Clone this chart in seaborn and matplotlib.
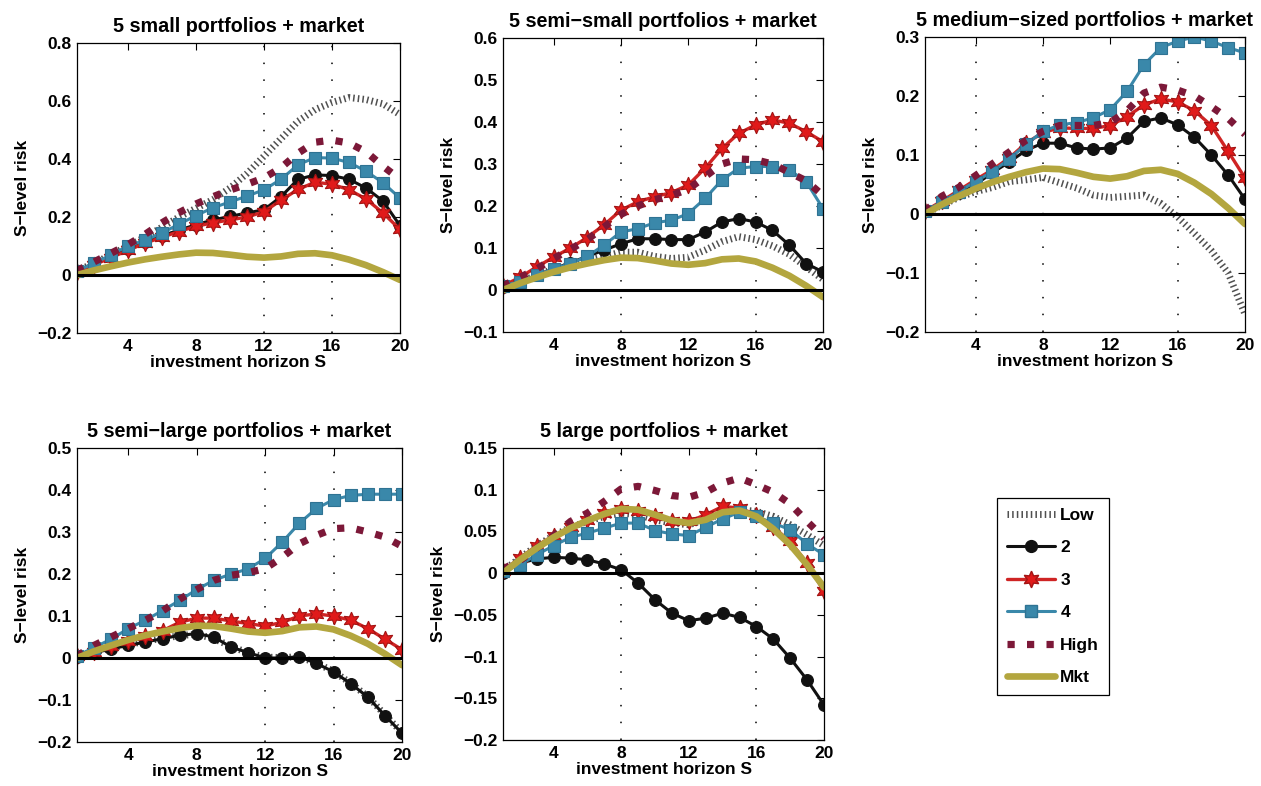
import numpy as np
import pandas as pd
import matplotlib
matplotlib.use("Agg")
import matplotlib.pyplot as plt
from matplotlib.ticker import FixedLocator, FuncFormatter
from matplotlib.lines import Line2D
import seaborn as sns

# ---------------------------------------------------------------- data
S = list(range(1, 21))
X_TICKS = [4, 8, 12, 16, 20]
SERIES = ["Low", "2", "3", "4", "High", "Mkt"]

MKT = [0.0, 0.016, 0.03, 0.043, 0.054, 0.063, 0.071, 0.077, 0.076, 0.07,
       0.063, 0.06, 0.064, 0.073, 0.075, 0.068, 0.053, 0.034, 0.01, -0.017]

# 5 small portfolios
SMALL_LOW = [0.015, 0.04, 0.07, 0.10, 0.13, 0.165, 0.20, 0.23, 0.26, 0.30,
             0.35, 0.41, 0.47, 0.53, 0.57, 0.595, 0.612, 0.605, 0.59, 0.553]
SMALL_2 = [0.015, 0.04, 0.065, 0.09, 0.115, 0.135, 0.155, 0.173, 0.19, 0.202,
           0.214, 0.225, 0.27, 0.33, 0.345, 0.343, 0.33, 0.30, 0.255, 0.17]
SMALL_3 = [0.012, 0.035, 0.06, 0.085, 0.11, 0.13, 0.15, 0.168, 0.18, 0.19,
           0.20, 0.218, 0.258, 0.295, 0.32, 0.313, 0.294, 0.262, 0.214, 0.157]
SMALL_4 = [0.015, 0.04, 0.07, 0.10, 0.12, 0.145, 0.175, 0.205, 0.232, 0.252,
           0.272, 0.294, 0.33, 0.38, 0.405, 0.403, 0.388, 0.358, 0.318, 0.265]
SMALL_HIGH = [0.015, 0.045, 0.075, 0.105, 0.14, 0.18, 0.215, 0.245, 0.27, 0.293,
              0.313, 0.335, 0.37, 0.42, 0.458, 0.465, 0.455, 0.425, 0.375, 0.33]

# 5 semi-small portfolios
SEMISMALL_LOW = [0.005, 0.02, 0.035, 0.05, 0.06, 0.07, 0.08, 0.09, 0.09, 0.08,
                 0.075, 0.078, 0.095, 0.115, 0.127, 0.12, 0.105, 0.085, 0.055, 0.025]
SEMISMALL_2 = [0.008, 0.02, 0.035, 0.05, 0.065, 0.08, 0.095, 0.11, 0.122, 0.122,
               0.12, 0.12, 0.138, 0.162, 0.17, 0.162, 0.142, 0.107, 0.063, 0.043]
SEMISMALL_3 = [0.01, 0.03, 0.055, 0.078, 0.10, 0.125, 0.155, 0.19, 0.21, 0.222,
               0.232, 0.25, 0.29, 0.337, 0.373, 0.393, 0.405, 0.397, 0.377, 0.353]
SEMISMALL_4 = [0.01, 0.02, 0.035, 0.05, 0.063, 0.08, 0.107, 0.138, 0.146, 0.16,
               0.166, 0.182, 0.218, 0.262, 0.29, 0.294, 0.294, 0.286, 0.258, 0.194]
SEMISMALL_HIGH = [0.01, 0.03, 0.05, 0.075, 0.097, 0.12, 0.15, 0.18, 0.20, 0.215,
                  0.225, 0.24, 0.27, 0.30, 0.312, 0.31, 0.30, 0.28, 0.26, 0.225]

# 5 medium-sized portfolios
MEDIUM_LOW = [0.0, 0.015, 0.028, 0.038, 0.045, 0.055, 0.058, 0.062, 0.053, 0.044,
              0.032, 0.028, 0.03, 0.032, 0.018, -0.005, -0.033, -0.062, -0.10, -0.17]
MEDIUM_2 = [0.005, 0.02, 0.035, 0.05, 0.07, 0.088, 0.108, 0.12, 0.12, 0.112,
            0.11, 0.112, 0.129, 0.157, 0.163, 0.151, 0.13, 0.10, 0.066, 0.025]
MEDIUM_3 = [0.005, 0.022, 0.04, 0.058, 0.075, 0.095, 0.12, 0.138, 0.146, 0.145,
            0.145, 0.15, 0.165, 0.185, 0.195, 0.19, 0.175, 0.15, 0.106, 0.061]
MEDIUM_4 = [0.005, 0.02, 0.038, 0.055, 0.072, 0.093, 0.118, 0.14, 0.151, 0.155,
            0.163, 0.177, 0.208, 0.253, 0.282, 0.293, 0.30, 0.293, 0.282, 0.273]
MEDIUM_HIGH = [0.005, 0.03, 0.045, 0.065, 0.085, 0.105, 0.125, 0.14, 0.15, 0.15,
               0.15, 0.155, 0.175, 0.205, 0.215, 0.21, 0.20, 0.182, 0.162, 0.135]

# 5 semi-large portfolios
SEMILARGE_LOW = [0.004, 0.013, 0.024, 0.032, 0.04, 0.047, 0.053, 0.057, 0.046, 0.028,
                 0.012, 0.002, 0.001, 0.003, -0.012, -0.032, -0.06, -0.092, -0.135, -0.178]
SEMILARGE_2 = [0.003, 0.012, 0.022, 0.03, 0.038, 0.046, 0.054, 0.058, 0.05, 0.026,
               0.013, 0.0, 0.0, 0.003, -0.013, -0.033, -0.061, -0.093, -0.137, -0.179]
SEMILARGE_3 = [0.005, 0.015, 0.028, 0.04, 0.052, 0.065, 0.085, 0.095, 0.095, 0.088,
               0.082, 0.076, 0.085, 0.10, 0.105, 0.10, 0.09, 0.07, 0.045, 0.02]
SEMILARGE_4 = [0.005, 0.025, 0.045, 0.07, 0.09, 0.113, 0.137, 0.163, 0.185, 0.20,
               0.212, 0.237, 0.276, 0.321, 0.356, 0.377, 0.387, 0.39, 0.39, 0.39]
SEMILARGE_HIGH = [0.005, 0.03, 0.05, 0.07, 0.09, 0.112, 0.14, 0.163, 0.185, 0.197,
                  0.203, 0.213, 0.24, 0.272, 0.292, 0.308, 0.31, 0.30, 0.288, 0.266]

# 5 large portfolios
LARGE_LOW = [0.003, 0.018, 0.033, 0.045, 0.055, 0.062, 0.068, 0.072, 0.07, 0.064,
             0.06, 0.058, 0.064, 0.072, 0.076, 0.074, 0.068, 0.058, 0.046, 0.033]
LARGE_2 = [0.0, 0.012, 0.017, 0.019, 0.018, 0.016, 0.011, 0.004, -0.012, -0.032,
           -0.048, -0.057, -0.054, -0.048, -0.053, -0.064, -0.079, -0.102, -0.128, -0.158]
LARGE_3 = [0.003, 0.018, 0.033, 0.045, 0.055, 0.064, 0.072, 0.077, 0.075, 0.069,
           0.063, 0.062, 0.07, 0.08, 0.078, 0.07, 0.055, 0.038, 0.012, -0.022]
LARGE_4 = [0.003, 0.01, 0.022, 0.033, 0.043, 0.048, 0.054, 0.06, 0.06, 0.051,
           0.047, 0.045, 0.055, 0.065, 0.073, 0.068, 0.06, 0.052, 0.035, 0.022]
LARGE_HIGH = [0.005, 0.015, 0.03, 0.045, 0.062, 0.072, 0.086, 0.101, 0.104, 0.099,
              0.093, 0.091, 0.097, 0.108, 0.114, 0.106, 0.097, 0.083, 0.062, 0.042]

TITLES = ["5 small portfolios + market",
          "5 semi\u2212small portfolios + market",
          "5 medium\u2212sized portfolios + market",
          "5 semi\u2212large portfolios + market",
          "5 large portfolios + market"]

Y_TICKS = [[-0.2, 0.0, 0.2, 0.4, 0.6, 0.8],
           [-0.1, 0.0, 0.1, 0.2, 0.3, 0.4, 0.5, 0.6],
           [-0.2, -0.1, 0.0, 0.1, 0.2, 0.3],
           [-0.2, -0.1, 0.0, 0.1, 0.2, 0.3, 0.4, 0.5],
           [-0.2, -0.15, -0.1, -0.05, 0.0, 0.05, 0.1, 0.15]]

GRID_X = [[12, 16], [8, 16], [4, 8, 16], [12, 16], [8, 16]]

PANEL_DATA = [
    [SMALL_LOW, SMALL_2, SMALL_3, SMALL_4, SMALL_HIGH, MKT],
    [SEMISMALL_LOW, SEMISMALL_2, SEMISMALL_3, SEMISMALL_4, SEMISMALL_HIGH, MKT],
    [MEDIUM_LOW, MEDIUM_2, MEDIUM_3, MEDIUM_4, MEDIUM_HIGH, MKT],
    [SEMILARGE_LOW, SEMILARGE_2, SEMILARGE_3, SEMILARGE_4, SEMILARGE_HIGH, MKT],
    [LARGE_LOW, LARGE_2, LARGE_3, LARGE_4, LARGE_HIGH, MKT],
]

# ---------------------------------------------------------------- style
sns.set_theme(style="white")
plt.rcParams["font.family"] = ["Liberation Sans", "DejaVu Sans"]
plt.rcParams["font.weight"] = "bold"
plt.rcParams["axes.titleweight"] = "bold"
plt.rcParams["axes.labelweight"] = "bold"
plt.rcParams["axes.unicode_minus"] = True
for key in ["text.color", "axes.labelcolor", "xtick.color", "ytick.color",
            "axes.edgecolor"]:
    plt.rcParams[key] = "black"

STYLE = {
    "Low": dict(color="#505050", linewidth=5.0, linestyle=(0, (0.22, 0.45)),
                marker=None),
    "2": dict(color="#111111", linewidth=2.2, linestyle="-", marker="o",
              markersize=8.5, markerfacecolor="#111111", markeredgecolor="#111111"),
    "3": dict(color="#cf2424", linewidth=2.4, linestyle="-", marker=(6, 1, 0),
              markersize=12, markerfacecolor="#e01a1a", markeredgecolor="#a31414"),
    "4": dict(color="#3a88aa", linewidth=2.2, linestyle="-", marker="s",
              markersize=8, markerfacecolor="#3a88aa", markeredgecolor="#2f7393"),
    "High": dict(color="#7c1838", linewidth=5.2, linestyle=(0, (1, 1.7)),
                 marker=None),
    "Mkt": dict(color="#b3a63f", linewidth=4.8, linestyle="-", marker=None),
}

AX_BOXES = [
    [77, 43, 400, 333],
    [503, 38, 823, 332],
    [925, 37, 1245, 332],
    [77, 448, 402, 742],
    [503, 448, 824, 740],
]

W, H = 1261, 786
fig = plt.figure(figsize=(W / 100, H / 100), dpi=100)
fig.patch.set_facecolor("white")


def fmt_tick(v, pos):
    s = f"{round(v, 4):g}"
    if s == "-0":
        s = "0"
    return s.replace("-", "\u2212")


for i, (title, series_vals) in enumerate(zip(TITLES, PANEL_DATA)):
    l, t, r, b = AX_BOXES[i]
    ax = fig.add_axes([l / W, 1 - b / H, (r - l) / W, (b - t) / H])

    for gx in GRID_X[i]:
        ax.axvline(gx, color="black", linewidth=1.1, linestyle=(0, (1, 10)),
                   zorder=0.5)

    df = pd.DataFrame({"S": S})
    for name, vals in zip(SERIES, series_vals):
        df[name] = vals
    for name in SERIES:
        st = dict(STYLE[name])
        sns.lineplot(data=df, x="S", y=name, ax=ax, estimator=None,
                     legend=False, label=name,
                     markeredgewidth=0.8, **st)

    ax.axhline(0, color="black", linewidth=2.2, zorder=3)

    yt = Y_TICKS[i]
    ax.set_xlim(1, 20)
    ax.set_ylim(yt[0], yt[-1])
    ax.xaxis.set_major_locator(FixedLocator(X_TICKS))
    ax.yaxis.set_major_locator(FixedLocator(yt))
    ax.yaxis.set_major_formatter(FuncFormatter(fmt_tick))
    ax.tick_params(direction="in", length=5, width=0.8, top=True, right=True,
                   labelsize=12.5, pad=4, colors="black")
    for sp in ax.spines.values():
        sp.set_visible(True)
        sp.set_color("black")
        sp.set_linewidth(0.9)

    ax.set_title(title, fontsize=14.2, pad=8)
    ax.set_xlabel("investment horizon S", fontsize=12.5, labelpad=1)
    ax.set_ylabel("S\u2212level risk", fontsize=12.5, labelpad=5)

# legend
handles = []
for name in SERIES:
    st = STYLE[name]
    handles.append(Line2D([], [], color=st["color"], linewidth=st["linewidth"],
                          linestyle=st["linestyle"], marker=st["marker"],
                          markersize=st.get("markersize", 0),
                          markerfacecolor=st.get("markerfacecolor", st["color"]),
                          markeredgecolor=st.get("markeredgecolor", st["color"])))
leg = fig.legend(handles, SERIES, loc="upper left",
                 bbox_to_anchor=(997 / W, 1 - 498 / H), borderaxespad=0,
                 frameon=True, fancybox=False, framealpha=1, edgecolor="black",
                 fontsize=12.5, handlelength=2.8, labelspacing=1.0,
                 handletextpad=0.3, borderpad=0.55)
leg.get_frame().set_linewidth(0.9)

fig.savefig("out.png", dpi=100, facecolor="white")
